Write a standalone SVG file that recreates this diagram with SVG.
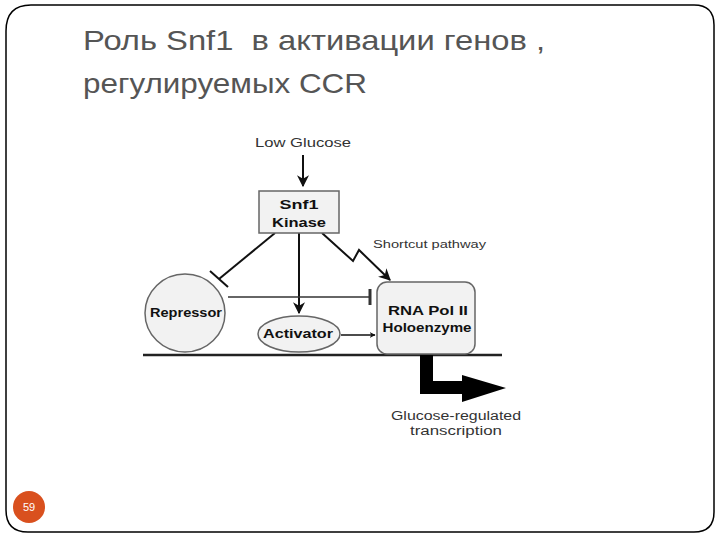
<svg xmlns="http://www.w3.org/2000/svg" width="720" height="540" viewBox="0 0 720 540">
<style>
.title{font-family:"Liberation Sans",Arial,sans-serif;font-size:28px;fill:#555}
.lbl{font-family:"Liberation Sans",Arial,sans-serif;font-size:12px;fill:#333}
.small{font-family:"Liberation Sans",Arial,sans-serif;font-size:10px;fill:#333}
.bold{font-family:"Liberation Sans",Arial,sans-serif;font-size:12px;font-weight:bold;fill:#111}
.ln{stroke:#111;stroke-width:2;fill:none}
.node{fill:#f2f2f2;stroke:#666;stroke-width:1.5}
</style>
<defs>
<marker id="arr" viewBox="0 0 10 10" refX="9" refY="5" markerWidth="6" markerHeight="6" orient="auto" markerUnits="userSpaceOnUse">
<path d="M0,0 L10,5 L0,10 L3,5 z" fill="#111"/>
</marker>
<marker id="arrBig" viewBox="0 0 10 10" refX="9" refY="5" markerWidth="12" markerHeight="12" orient="auto" markerUnits="userSpaceOnUse">
<path d="M0,0 L10,5 L0,10 L3,5 z" fill="#111"/>
</marker>
</defs>
<rect width="720" height="540" fill="#fff"/>
<path d="M31,5 H694 Q714,5 714,25 V512 Q714,532 694,532 H28 Q6,532 6,510 V31 Q6,5 31,5 Z" fill="none" stroke="#000" stroke-width="1.5"/>
<text class="title" x="83" y="50" textLength="462" lengthAdjust="spacingAndGlyphs" xml:space="preserve">Роль Snf1  в активации генов ,</text>
<text class="title" x="83" y="93" textLength="284" lengthAdjust="spacingAndGlyphs">регулируемых CCR</text>
<g id="page">
<circle cx="29" cy="507" r="16" fill="#d9501e"/>
<text x="29" y="511" text-anchor="middle" font-family="Liberation Sans,Arial,sans-serif" font-size="11" fill="#fff">59</text>
</g>
<g id="connectors">
<line class="ln" x1="303" y1="155" x2="303" y2="186" marker-end="url(#arrBig)"/>
<line class="ln" x1="275" y1="233" x2="219" y2="279"/>
<line class="ln" x1="210" y1="271" x2="228" y2="287"/>
<line class="ln" x1="299" y1="233" x2="299" y2="313" marker-end="url(#arrBig)"/>
<polyline class="ln" points="322,233 353,261 359,250 390,280" marker-end="url(#arrBig)"/>
<line x1="228" y1="297" x2="370" y2="297" stroke="#333" stroke-width="1.5"/>
<line x1="370" y1="289" x2="370" y2="305" stroke="#333" stroke-width="3"/>
<line x1="341" y1="335" x2="375" y2="335" stroke="#111" stroke-width="1.5" marker-end="url(#arr)"/>
<line x1="143" y1="355" x2="502" y2="355" stroke="#222" stroke-width="2.5"/>
<path d="M420,355 H433 V381 H462 V375 L506,388 L462,402 V394 H420 Z" fill="#000"/>
</g>
<g id="low-glucose"><text class="lbl" x="303" y="147" text-anchor="middle" textLength="96" lengthAdjust="spacingAndGlyphs">Low Glucose</text></g>
<g id="snf1">
<rect class="node" x="259" y="191" width="80" height="42"/>
<text class="bold" x="299" y="209" text-anchor="middle" font-size="13" textLength="39" lengthAdjust="spacingAndGlyphs">Snf1</text>
<text class="bold" x="299" y="227" text-anchor="middle" font-size="13" textLength="54" lengthAdjust="spacingAndGlyphs">Kinase</text>
</g>
<g id="shortcut-label"><text class="small" x="373" y="248" textLength="113" lengthAdjust="spacingAndGlyphs">Shortcut pathway</text></g>
<g id="repressor">
<ellipse class="node" cx="185" cy="313" rx="40" ry="39" fill="#f6f6f6"/>
<text class="bold" x="186" y="317" text-anchor="middle" font-size="11" textLength="72" lengthAdjust="spacingAndGlyphs">Repressor</text>
</g>
<g id="activator">
<ellipse class="node" cx="299" cy="334" rx="41" ry="18"/>
<text class="bold" x="298" y="338" text-anchor="middle" font-size="11" textLength="70" lengthAdjust="spacingAndGlyphs">Activator</text>
</g>
<g id="rnapol">
<rect class="node" x="377" y="282" width="98" height="72" rx="10"/>
<text class="bold" x="428" y="315" text-anchor="middle" textLength="80" lengthAdjust="spacingAndGlyphs">RNA Pol II</text>
<text class="bold" x="427" y="332" text-anchor="middle" textLength="89" lengthAdjust="spacingAndGlyphs">Holoenzyme</text>
</g>
<g id="output-label">
<text class="lbl" x="456" y="420" text-anchor="middle" textLength="130" lengthAdjust="spacingAndGlyphs">Glucose-regulated</text>
<text class="lbl" x="456" y="435" text-anchor="middle" textLength="92" lengthAdjust="spacingAndGlyphs">transcription</text>
</g>
</svg>
